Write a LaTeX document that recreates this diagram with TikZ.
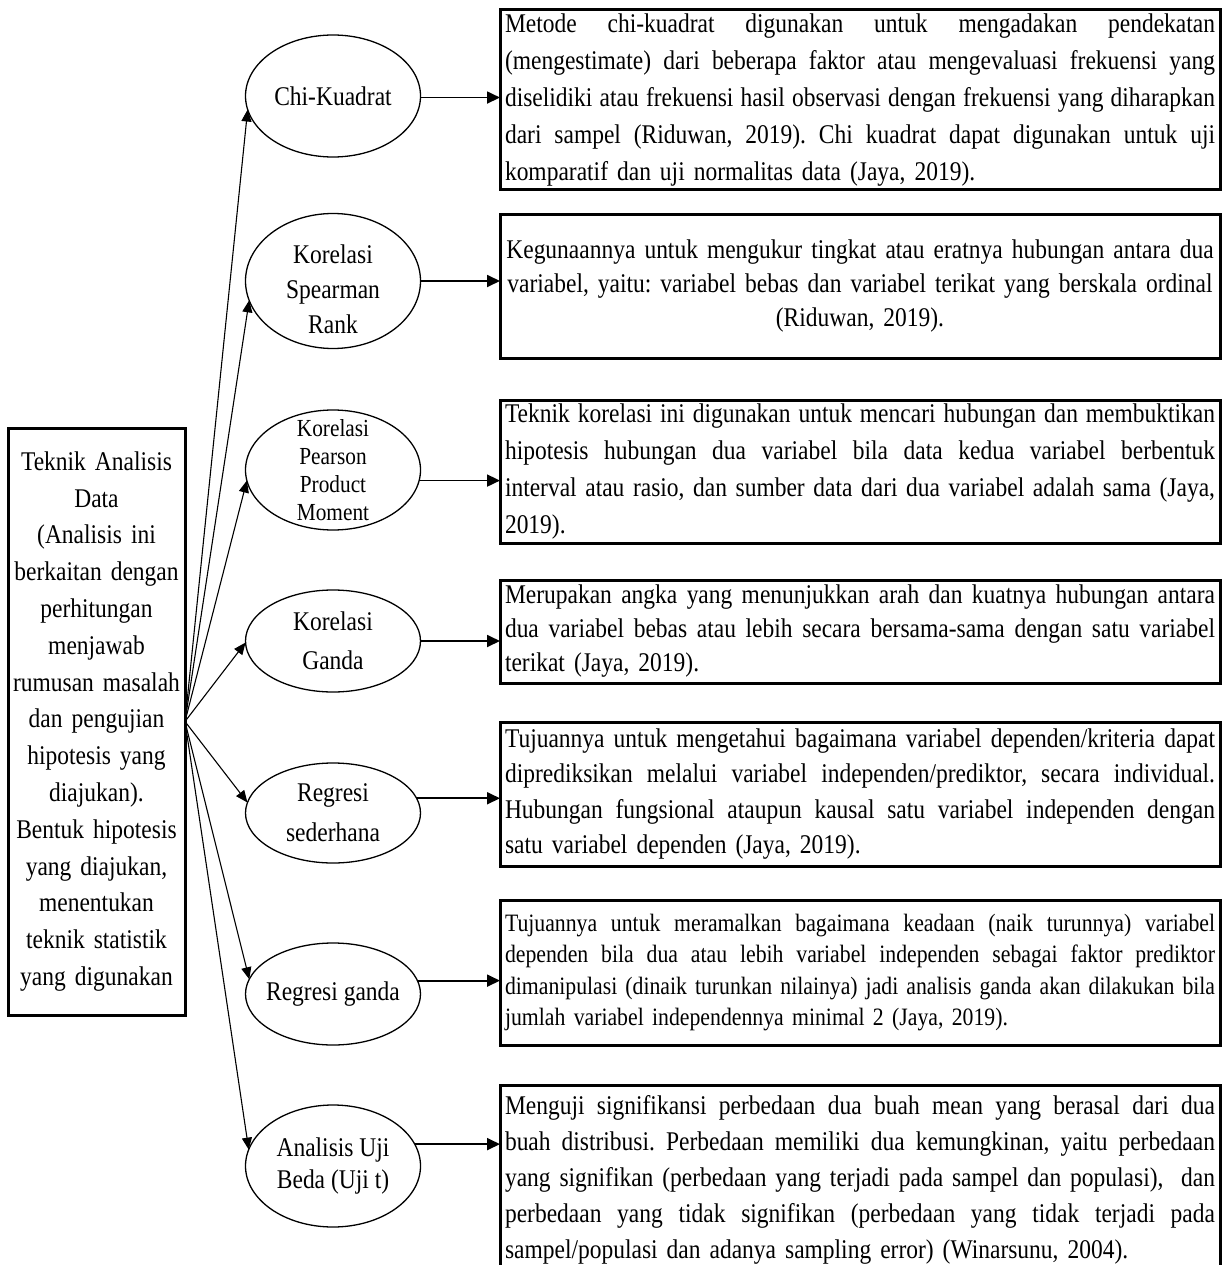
\documentclass[tikz,border=0pt]{standalone}
\usepackage{graphicx}
\usepackage{fontspec}
\setmainfont{Liberation Serif}[FakeStretch=0.87]
\usetikzlibrary{shapes.geometric,arrows.meta}
\makeatletter
\newsavebox\jlbox
\newdimen\jlw \jlw=710pt
\newcommand\jlsp{\spaceskip=\fontdimen2\font plus 1fil minus 0.2\fontdimen2\font\relax}
\newcommand\jl[1]{\leavevmode\sbox\jlbox{\jlsp#1}%
  \ifdim\wd\jlbox>\jlw
    \scalebox{\fpeval{\strip@pt\jlw/\strip@pt\wd\jlbox}}[1]{\usebox\jlbox}%
  \else\hbox to \jlw{\jlsp#1}\fi}
\makeatother
\begin{document}
\frenchspacing
\begin{tikzpicture}[x=1pt,y=-1pt,
  ell/.style={draw, ellipse, line width=1.3pt, minimum width=175pt, inner sep=0pt, outer sep=0pt},
  etext/.style={align=center, inner sep=0pt},
  tbox/.style={draw, line width=3pt, anchor=north west, outer sep=0pt, inner xsep=5pt, inner ysep=0pt, text width=710pt, minimum width=720pt, align=left},
  harr/.style={line width=1.8pt, -{Triangle[length=13pt,width=12pt]}},
  darr/.style={line width=1.1pt, -{Triangle[length=12pt,width=10pt]}},
]
\useasboundingbox (0,0) rectangle (1230,1265);

% left box
\node[draw, line width=3pt, outer sep=0pt, minimum width=177pt, minimum height=587pt,
      text width=172pt, inner xsep=2.5pt, align=center,
      font={\fontsize{27}{36.8}\selectfont}] (lb) at (96.5,721.5)
  {Teknik Analisis\\Data\\(Analisis ini\\berkaitan dengan\\perhitungan\\menjawab\\rumusan masalah\\dan pengujian\\hipotesis yang\\diajukan).\\Bentuk hipotesis\\yang diajukan,\\menentukan\\teknik statistik\\yang digunakan};
\coordinate (hub) at (lb.east);

% ellipses
\node[ell, minimum height=122pt] (chi) at (333,96) {};
\node[etext, font={\fontsize{27}{36}\selectfont}] (chit) at (chi) {Chi-Kuadrat};
\node[ell, minimum height=135pt] (sp) at (333,281) {};
\node[etext, font={\fontsize{27}{35}\selectfont}] (spt) at (333,289) {Korelasi\\Spearman\\Rank};
\node[ell, minimum height=120pt] (pe) at (333,470) {};
\node[etext, font={\fontsize{24.5}{28}\selectfont}] (pet) at (pe) {Korelasi\\Pearson\\Product\\Moment};
\node[ell, minimum height=102pt] (kg) at (333,641) {};
\node[etext, font={\fontsize{27}{39}\selectfont}] (kgt) at (kg) {Korelasi\\Ganda};
\node[ell, minimum height=100pt] (rs) at (333,813) {};
\node[etext, font={\fontsize{27}{40}\selectfont}] (rst) at (rs) {Regresi\\sederhana};
\node[ell, minimum height=102pt] (rg) at (333,994) {};
\node[etext, font={\fontsize{27}{36}\selectfont}] (rgt) at (rg) {Regresi ganda};
\node[ell, minimum height=122pt] (ut) at (333,1166) {};
\node[etext, font={\fontsize{27}{32}\selectfont}] (utt) at (ut) {Analisis Uji\\Beda (Uji t)};

% right boxes
\node[tbox, minimum height=180pt, font={\fontsize{27}{37}\selectfont}] (b1) at (500,10)
  {\jl{Metode chi-kuadrat digunakan untuk mengadakan pendekatan}\\
   \jl{(mengestimate) dari beberapa faktor atau mengevaluasi frekuensi yang}\\
   \jl{diselidiki atau frekuensi hasil observasi dengan frekuensi yang diharapkan}\\
   \jl{dari sampel (Riduwan, 2019). Chi kuadrat dapat digunakan untuk uji}\\
   komparatif dan uji normalitas data (Jaya, 2019).};
\node[tbox, minimum height=143pt, align=center, font={\fontsize{27}{34}\selectfont}] (b2) at (500,215)
  {Kegunaannya untuk mengukur tingkat atau eratnya hubungan antara dua\\
   variabel, yaitu: variabel bebas dan variabel terikat yang berskala ordinal\\
   (Riduwan, 2019).};
\node[tbox, minimum height=143pt, font={\fontsize{27}{37}\selectfont}] (b3) at (500,400)
  {\jl{Teknik korelasi ini digunakan untuk mencari hubungan dan membuktikan}\\
   \jl{hipotesis hubungan dua variabel bila data kedua variabel berbentuk}\\
   \jl{interval atau rasio, dan sumber data dari dua variabel adalah sama (Jaya,}\\
   2019).};
\node[tbox, minimum height=103pt, font={\fontsize{27}{34}\selectfont}] (b4) at (500,580)
  {\jl{Merupakan angka yang menunjukkan arah dan kuatnya hubungan antara}\\
   \jl{dua variabel bebas atau lebih secara bersama-sama dengan satu variabel}\\
   terikat (Jaya, 2019).};
\node[tbox, minimum height=144pt, font={\fontsize{27}{35.5}\selectfont}] (b5) at (500,722)
  {\jl{Tujuannya untuk mengetahui bagaimana variabel dependen/kriteria dapat}\\
   \jl{diprediksikan melalui variabel independen/prediktor, secara individual.}\\
   \jl{Hubungan fungsional ataupun kausal satu variabel independen dengan}\\
   satu variabel dependen (Jaya, 2019).};
\node[tbox, minimum height=145pt, font={\fontsize{25}{31.3}\selectfont}] (b6) at (500,900)
  {\jl{Tujuannya untuk meramalkan bagaimana keadaan (naik turunnya) variabel}\\
   \jl{dependen bila dua atau lebih variabel independen sebagai faktor prediktor}\\
   \jl{dimanipulasi (dinaik turunkan nilainya) jadi analisis ganda akan dilakukan bila}\\
   jumlah variabel independennya minimal 2 (Jaya, 2019).};
\node[tbox, minimum height=190pt, font={\fontsize{27}{36}\selectfont}] (b7) at (500,1085)
  {\jl{Menguji signifikansi perbedaan dua buah mean yang berasal dari dua}\\
   \jl{buah distribusi. Perbedaan memiliki dua kemungkinan, yaitu perbedaan}\\
   \jl{yang signifikan (perbedaan yang terjadi pada sampel dan populasi), \ dan}\\
   \jl{perbedaan yang tidak signifikan (perbedaan yang tidak terjadi pada}\\
   sampel/populasi dan adanya sampling error) (Winarsunu, 2004).};

% connectors from the hub
\draw[darr] (hub) -- (chi.189);
\draw[darr] (hub) -- (sp.193);
\draw[darr] (hub) -- (pe.187);
\draw[darr] (hub) -- (kg.181);
\draw[darr] (hub) -- (rs.173);
\draw[darr] (hub) -- (rg.170);
\draw[darr] (hub) -- (ut.169);

% horizontal connectors
\draw[harr] (chi.-1) -- (chi.-1 -| b1.west);
\draw[harr] (sp.east) -- (sp.east -| b2.west);
\draw[harr] (pe.-7) -- (pe.-7 -| b3.west);
\draw[harr] (kg.east) -- (kg.east -| b4.west);
\draw[harr] (rs.10) -- (rs.10 -| b5.west);
\draw[harr] (rg.9.5) -- (rg.9.5 -| b6.west);
\draw[harr] (ut.15) -- (ut.15 -| b7.west);
\end{tikzpicture}
\end{document}
